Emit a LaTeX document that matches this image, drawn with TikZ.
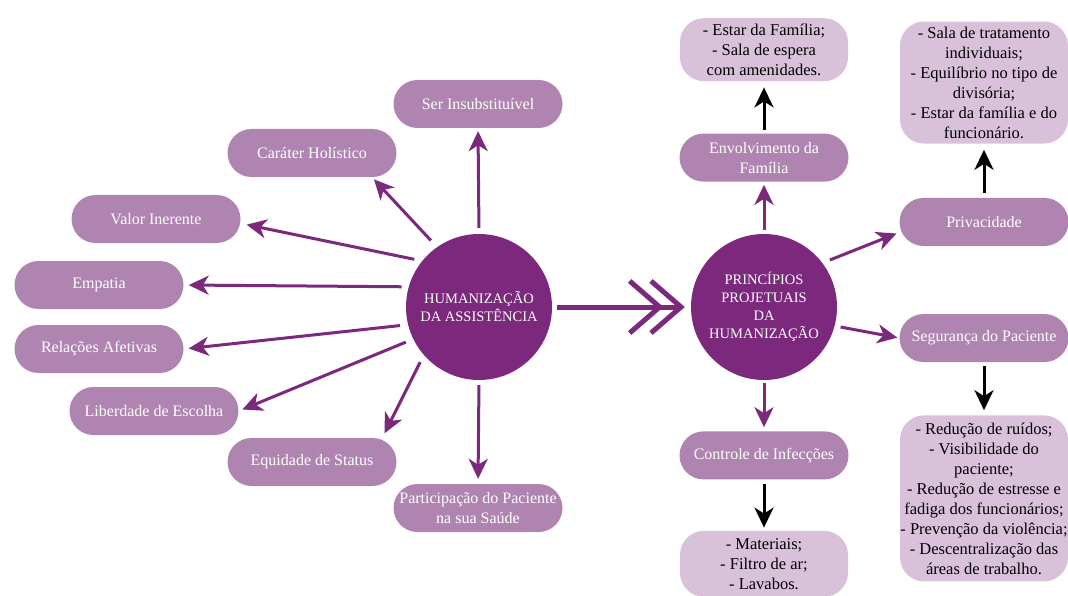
\documentclass[tikz,border=0pt]{standalone}
\usepackage{fontspec}
\setmainfont{Liberation Serif}
\usepackage{tikz}
\usetikzlibrary{arrows.meta,positioning}
\usepackage{xcolor}
\definecolor{hubpurple}{HTML}{7B287D}
\definecolor{satpurple}{HTML}{B084B1}
\definecolor{notelilac}{HTML}{D9C1DA}

\begin{document}
\begin{tikzpicture}[
  x=1pt, y=-1pt,
  hub/.style={circle, fill=hubpurple, minimum size=146pt, inner sep=0pt,
              align=center, text=white,
              font=\fontsize{14.5}{18}\selectfont},
  sat/.style={fill=satpurple, rounded corners=24pt, minimum width=169pt,
              minimum height=48pt, inner sep=0pt, align=center,
              text=white, font=\fontsize{16}{20}\selectfont},
  note/.style={fill=notelilac, rounded corners=24pt, minimum width=168pt,
               inner sep=0pt, align=center,
               font=\fontsize{16.5}{20}\selectfont},
  parr/.style={draw=hubpurple, line width=3pt,
               -{Stealth[length=20pt, width=19pt, inset=6pt]}},
  barr/.style={draw=black, line width=3pt,
               -{Stealth[length=20pt, width=19pt, inset=6pt]}}
]
\useasboundingbox (0,0) rectangle (1068,596);

\node[hub] (lhub) at (479,307) {HUMANIZAÇÃO\\DA ASSISTÊNCIA};
\node[hub] (rhub) at (764,307) {PRINCÍPIOS\\PROJETUAIS\\DA\\HUMANIZAÇÃO};

\node[sat] (ser) at (478,104) {Ser Insubstituível};
\node[sat] (car) at (312,153) {Caráter Holístico};
\node[sat] (val) at (156,219) {Valor Inerente};
\node[sat] (emp) at (99,285) {Empatia};
\node[sat] (rel) at (99,349) {Relações Afetivas};
\node[sat] (lib) at (154,411) {Liberdade de Escolha};
\node[sat] (equ) at (312,462) {Equidade de Status};
\node[sat] (par) at (478,508) {Participação do Paciente\\na sua Saúde};

\node[sat, above=52pt of rhub] (env) {Envolvimento da\\Família};
\node[sat] (priv) at (984,222) {Privacidade};
\node[sat] (seg) at (984,338) {Segurança do Paciente};
\node[sat, below=51pt of rhub] (ctrl) {Controle de Infecções};

\node[note, minimum height=63pt, above=52pt of env] (famnote)
  {- Estar da Família;\\- Sala de espera\\com amenidades.};
\node[note, minimum height=122pt, above=54pt of priv] (privnote)
  {- Sala de tratamento\\individuais;\\- Equilíbrio no tipo de\\divisória;\\
   - Estar da família e do\\funcionário.};
\node[note, minimum height=166pt, below=53pt of seg] (segnote)
  {- Redução de ruídos;\\- Visibilidade do\\paciente;\\
   - Redução de estresse e\\fadiga dos funcionários;\\
   - Prevenção da violência;\\- Descentralização das\\áreas de trabalho.};
\node[note, minimum height=66pt, below=51pt of ctrl] (ctrlnote)
  {- Materiais;\\- Filtro de ar;\\- Lavabos.};

\draw[parr, shorten <=6pt, shorten >=3pt] (lhub.90) -- (ser.south);
\draw[parr, shorten <=9pt, shorten >=3pt] (lhub.125) -- (car.-22.5);
\draw[parr, shorten <=8pt, shorten >=6pt] (lhub.141) -- (val.-3);
\draw[parr, shorten <=7pt, shorten >=5pt] (lhub.164) -- (emp.east);
\draw[parr, shorten <=8pt, shorten >=5pt] (lhub.194) -- (rel.east);
\draw[parr, shorten <=8pt, shorten >=4pt] (lhub.206) -- (lib.east);
\draw[parr, shorten <=8pt, shorten >=5pt] (lhub.221) -- (equ.19);
\draw[parr, shorten <=5pt, shorten >=5pt] (lhub.south) -- (par.north);

\draw[draw=hubpurple, line width=5pt, shorten <=5pt, shorten >=6pt,
  -{Straight Barb[length=30pt, width=52pt, line width=5pt, sep=-15pt]
    Straight Barb[length=30pt, width=52pt, line width=5pt]}]
  (lhub.east) -- (rhub.west);

\draw[parr, shorten <=4pt, shorten >=3pt] (rhub.north) -- (env.south);
\draw[parr, shorten <=8pt, shorten >=3pt] (rhub.37) -- (priv.187);
\draw[parr, shorten <=6pt, shorten >=2pt] (rhub.-15) -- (seg.west);
\draw[parr, shorten <=3pt, shorten >=4pt] (rhub.south) -- (ctrl.north);

\draw[barr, shorten <=3pt, shorten >=6pt] (env.north) -- (famnote.south);
\draw[barr, shorten <=5pt, shorten >=6pt] (priv.north) -- (privnote.south);
\draw[barr, shorten <=4pt, shorten >=5pt] (seg.south) -- (segnote.north);
\draw[barr, shorten <=4pt, shorten >=3pt] (ctrl.south) -- (ctrlnote.north);
\end{tikzpicture}
\end{document}
